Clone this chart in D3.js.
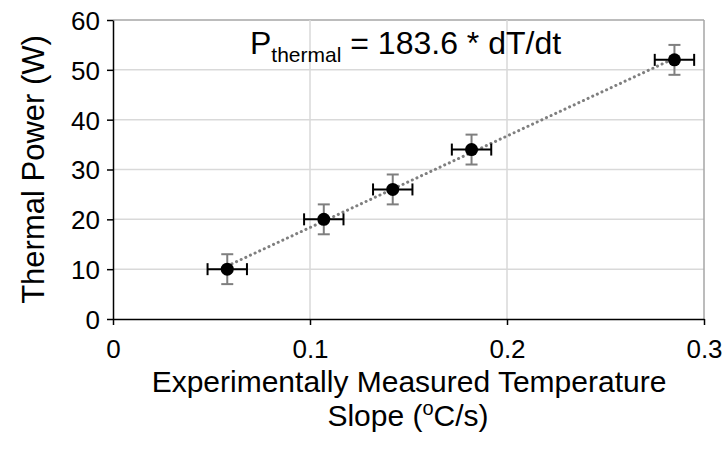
<!DOCTYPE html>
<html lang="en">
<head>
    <meta charset="utf-8">
    <script src="https://cdn.jsdelivr.net/npm/d3@7"></script>
    <style>
        body { margin: 0; background: #fff; }
        text { font-family: "Liberation Sans", Arial, sans-serif; fill: #000; }
    </style>
</head>
<body>
    <script>
        let w = 728;
        let h = 455;

        // measured points
        let slopes = [0.058, 0.107, 0.142, 0.182, 0.285];
        let powers = [10, 20, 26, 34, 52];
        let slopeErr = [0.01, 0.01, 0.01, 0.01, 0.01];
        let powerErr = [3, 3, 3, 3, 3];
        let fitSlope = 183.6;
        let xTicks = [0, 0.1, 0.2, 0.3];
        let yTicks = [0, 10, 20, 30, 40, 50, 60];

        let svg = d3.select("body").append("svg")
            .attr("width", w)
            .attr("height", h);

        let x = d3.scaleLinear().domain([0, 0.3]).range([113, 704]);
        let y = d3.scaleLinear().domain([0, 60]).range([319, 20]);

        // grid
        svg.append("g").selectAll("line")
            .data(yTicks.slice(1))
            .join("line")
            .attr("x1", x(0)).attr("x2", x(0.3))
            .attr("y1", d => y(d)).attr("y2", d => y(d))
            .attr("stroke", d => d === 60 ? "#a6a6a6" : "#d9d9d9").attr("stroke-width", 1.5);
        svg.append("g").selectAll("line")
            .data(xTicks.slice(1))
            .join("line")
            .attr("x1", d => x(d)).attr("x2", d => x(d))
            .attr("y1", y(0)).attr("y2", y(60))
            .attr("stroke", d => d === 0.3 ? "#a6a6a6" : "#d9d9d9").attr("stroke-width", 1.5);

        // axes
        let xAxis = svg.append("g")
            .attr("transform", "translate(0," + y(0) + ")")
            .call(d3.axisBottom(x).tickValues(xTicks).tickSize(6).tickSizeOuter(0)
                .tickFormat(d => d === 0 ? "0" : d3.format(".1f")(d)));
        let yAxis = svg.append("g")
            .attr("transform", "translate(" + x(0) + ",0)")
            .call(d3.axisLeft(y).tickValues(yTicks).tickSize(6).tickSizeOuter(0));
        [xAxis, yAxis].forEach(function(a) {
            a.select(".domain").attr("stroke", "#000").attr("stroke-width", 1.5);
            a.selectAll(".tick line").attr("stroke", "#000").attr("stroke-width", 1.5);
            a.selectAll(".tick text").attr("font-size", 26).attr("fill", "#000");
        });
        xAxis.selectAll(".tick text").attr("y", 39).attr("dy", 0);
        yAxis.selectAll(".tick text").attr("x", -13).attr("dy", "0.36em");

        let pts = slopes.map((s, i) => ({ x: s, y: powers[i], ex: slopeErr[i], ey: powerErr[i] }));

        // trendline
        svg.append("line")
            .attr("x1", x(slopes[0])).attr("y1", y(fitSlope * slopes[0]))
            .attr("x2", x(slopes[slopes.length - 1])).attr("y2", y(fitSlope * slopes[slopes.length - 1]))
            .attr("stroke", "#7f7f7f").attr("stroke-width", 3)
            .attr("stroke-dasharray", "0.1 5").attr("stroke-linecap", "round");

        // error bars
        let eb = svg.append("g").selectAll("g").data(pts).join("g");
        eb.append("line")
            .attr("x1", d => x(d.x)).attr("x2", d => x(d.x))
            .attr("y1", d => y(d.y - d.ey)).attr("y2", d => y(d.y + d.ey))
            .attr("stroke", "#7f7f7f").attr("stroke-width", 2);
        eb.selectAll(".capy").data(d => [d.y - d.ey, d.y + d.ey].map(v => ({ x: d.x, v: v })))
            .join("line")
            .attr("x1", d => x(d.x) - 6).attr("x2", d => x(d.x) + 6)
            .attr("y1", d => y(d.v)).attr("y2", d => y(d.v))
            .attr("stroke", "#7f7f7f").attr("stroke-width", 2);
        eb.append("line")
            .attr("x1", d => x(d.x - d.ex)).attr("x2", d => x(d.x + d.ex))
            .attr("y1", d => y(d.y)).attr("y2", d => y(d.y))
            .attr("stroke", "#000").attr("stroke-width", 2);
        eb.selectAll(".capx").data(d => [d.x - d.ex, d.x + d.ex].map(v => ({ y: d.y, v: v })))
            .join("line")
            .attr("x1", d => x(d.v)).attr("x2", d => x(d.v))
            .attr("y1", d => y(d.y) - 6).attr("y2", d => y(d.y) + 6)
            .attr("stroke", "#000").attr("stroke-width", 2);

        // markers
        svg.append("g").selectAll("circle").data(pts).join("circle")
            .attr("cx", d => x(d.x)).attr("cy", d => y(d.y))
            .attr("r", 6.5).attr("fill", "#000");

        // equation
        let eq = svg.append("text").attr("x", 250).attr("y", 54).attr("font-size", 32);
        eq.append("tspan").text("P");
        eq.append("tspan").attr("font-size", 21).attr("dy", 8).text("thermal");
        eq.append("tspan").attr("dy", -8).text(" = 183.6 * dT/dt");

        // axis titles
        svg.append("text")
            .attr("transform", "translate(44," + y(30) + ") rotate(-90)")
            .attr("text-anchor", "middle").attr("font-size", 31)
            .text("Thermal Power (W)");
        svg.append("text").attr("x", 409).attr("y", 392)
            .attr("text-anchor", "middle").attr("font-size", 30)
            .text("Experimentally Measured Temperature");
        let t2 = svg.append("text").attr("x", 408).attr("y", 426)
            .attr("text-anchor", "middle").attr("font-size", 30);
        t2.append("tspan").text("Slope (");
        t2.append("tspan").attr("font-size", 20).attr("dy", -11).text("o");
        t2.append("tspan").attr("dy", 11).text("C/s)");
    </script>
</body>
</html>
